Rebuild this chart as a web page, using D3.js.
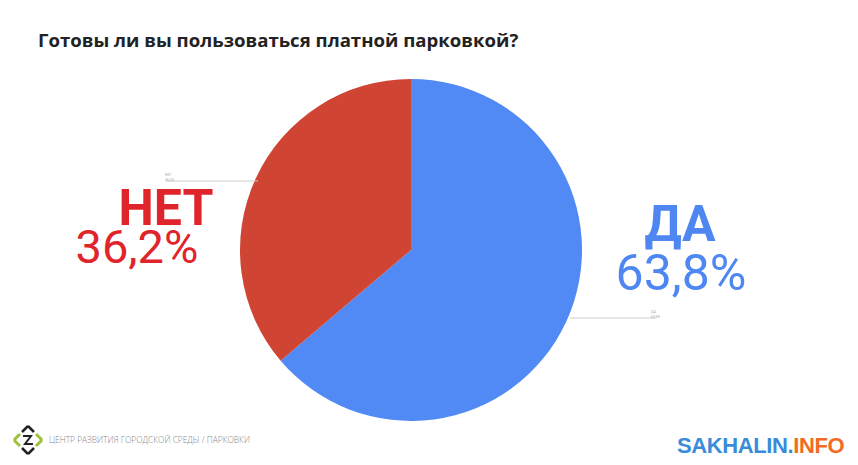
<!DOCTYPE html>
<html>
<head>
<meta charset="utf-8">
<script src="https://cdn.jsdelivr.net/npm/d3@7"></script>
<style>
  body { margin: 0; background: #fff; }
  svg { display: block; }
</style>
</head>
<body>
<div id="chart"></div>
<script>
const WIDTH = 858
const HEIGHT = 465

// data
const answers = ["ДА", "НЕТ"]
const shares = [63.8, 36.2]
const colors = ["#5189f5", "#d04434"]
const textColors = ["#4f87f2", "#df252b"]

const svg = d3.select("#chart")
    .append("svg")
        .attr("width", WIDTH)
        .attr("height", HEIGHT)

svg.append("text")
    .attr("x", 38)
    .attr("y", 47)
    .attr("font-family", "Open Sans")
    .attr("font-weight", 700)
    .attr("font-size", 18.6)
    .attr("fill", "#222")
    .text("Готовы ли вы пользоваться платной парковкой?")

const cx = 411, cy = 250, R = 171

const pie = d3.pie().sort(null).value(d => d)
const arcs = pie(shares)
const arc = d3.arc().innerRadius(0).outerRadius(R)

const g = svg.append("g").attr("transform", `translate(${cx}, ${cy})`)

g.selectAll("path")
    .data(arcs)
    .enter().append("path")
        .attr("d", arc)
        .attr("fill", (d, i) => colors[i])

const fmt = v => String(v).replace(".", ",") + "%"
const labelPos = [
    { line: [[570, 318], [655, 318]], name: [680, 241], val: [681, 290], valSize: 50, tiny: [651, 313] },
    { line: [[166, 181], [258, 181]], name: [166, 225], val: [137, 263], valSize: 47, tiny: [165, 176] }
]

labelPos.forEach((p, i) => {
    // faint leader line with its tiny label
    svg.append("line")
        .attr("x1", p.line[0][0]).attr("y1", p.line[0][1])
        .attr("x2", p.line[1][0]).attr("y2", p.line[1][1])
        .attr("stroke", "#ccc")
        .attr("stroke-width", 1)
    svg.append("text")
        .attr("x", p.tiny[0]).attr("y", p.tiny[1])
        .attr("font-family", "Roboto")
        .attr("font-size", 3.5)
        .attr("fill", "#aaa")
        .text(answers[i])
    svg.append("text")
        .attr("x", p.tiny[0]).attr("y", p.tiny[1] + 5)
        .attr("font-family", "Roboto")
        .attr("font-size", 3.5)
        .attr("fill", "#aaa")
        .text(fmt(shares[i]))

    svg.append("text")
        .attr("x", p.name[0]).attr("y", p.name[1])
        .attr("text-anchor", "middle")
        .attr("font-family", "Roboto")
        .attr("font-weight", 700)
        .attr("font-size", 50)
        .attr("fill", textColors[i])
        .text(answers[i])
    svg.append("text")
        .attr("x", p.val[0]).attr("y", p.val[1])
        .attr("text-anchor", "middle")
        .attr("font-family", "Roboto")
        .attr("font-size", p.valSize)
        .attr("fill", textColors[i])
        .text(fmt(shares[i]))
})

// footer logo
const logo = svg.append("g").attr("transform", "translate(28, 440)")
logo.append("path").attr("d", "M-14,0 L-8,-6 M-14,0 L-8,6").attr("stroke", "#9bc23c").attr("stroke-width", 3).attr("fill", "none")
logo.append("path").attr("d", "M14,0 L8,-6 M14,0 L8,6").attr("stroke", "#9bc23c").attr("stroke-width", 3).attr("fill", "none")
logo.append("path").attr("d", "M0,-14 L-6,-8 M0,-14 L6,-8 M0,14 L-6,8 M0,14 L6,8").attr("stroke", "#222").attr("stroke-width", 2.5).attr("fill", "none")
logo.append("path").attr("d", "M-5,-4 L3,-4 L-3,4 L5,4").attr("stroke", "#222").attr("stroke-width", 2).attr("fill", "none")

svg.append("text")
    .attr("x", 49)
    .attr("y", 443)
    .attr("font-family", "Open Sans")
    .attr("font-weight", 300)
    .attr("font-size", 8.4)
    .attr("fill", "#888")
    .text("ЦЕНТР РАЗВИТИЯ ГОРОДСКОЙ СРЕДЫ / ПАРКОВКИ")

const brand = svg.append("text")
    .attr("x", 677)
    .attr("y", 453)
    .attr("font-family", "Liberation Sans")
    .attr("font-weight", 700)
    .attr("font-size", 22)
    .attr("letter-spacing", -0.4)
brand.append("tspan").attr("fill", "#3a8bd8").text("SAKHALIN.")
brand.append("tspan").attr("fill", "#f26b22").text("INFO")
</script>
</body>
</html>
